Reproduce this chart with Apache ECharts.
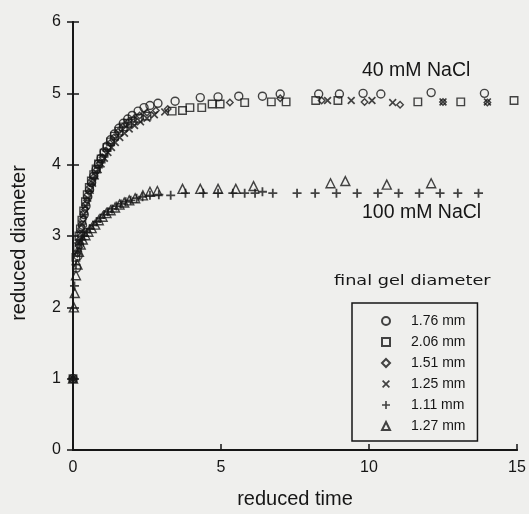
<!DOCTYPE html>
<html>
<head>
<meta charset="utf-8">
<script src="https://cdn.jsdelivr.net/npm/echarts@6/dist/echarts.min.js"></script>
<style>
html,body{margin:0;padding:0;background:#efefed;}
#c{width:529px;height:514px;}
</style>
</head>
<body>
<div id="c"></div>
<script>
// ---- data (reduced time, reduced diameter) ----
const seriesNames = ['1.76 mm', '2.06 mm', '1.51 mm', '1.25 mm', '1.11 mm', '1.27 mm'];
const xTicks = [0, 5, 10, 15];
const yTicks = [0, 1, 2, 3, 4, 5, 6];

const circle176 = [[0,1],[0.12,2.55],[0.17,2.72],[0.22,2.88],[0.27,3.02],[0.32,3.15],[0.38,3.3],[0.44,3.42],[0.5,3.55],[0.56,3.65],[0.63,3.75],[0.7,3.84],[0.78,3.93],[0.86,4.01],[0.95,4.09],[1.05,4.18],[1.15,4.26],[1.27,4.35],[1.4,4.43],[1.55,4.51],[1.7,4.58],[1.85,4.64],[2.0,4.69],[2.2,4.75],[2.4,4.8],[2.6,4.83],[2.87,4.86],[3.45,4.89],[4.3,4.94],[4.9,4.95],[5.6,4.96],[6.4,4.96],[7.0,4.99],[8.3,4.99],[9.0,4.99],[9.8,5.0],[10.4,4.99],[12.1,5.01],[13.9,5.0]];
const square206 = [[0,1],[0.1,2.7],[0.15,2.85],[0.2,3.0],[0.25,3.1],[0.3,3.22],[0.36,3.35],[0.42,3.48],[0.48,3.58],[0.55,3.68],[0.62,3.77],[0.7,3.86],[0.78,3.94],[0.86,4.01],[0.95,4.08],[1.05,4.16],[1.15,4.24],[1.27,4.32],[1.4,4.4],[1.55,4.47],[1.7,4.53],[1.85,4.58],[2.0,4.61],[2.2,4.65],[2.5,4.68],[3.35,4.75],[3.7,4.76],[3.95,4.8],[4.35,4.8],[4.7,4.85],[4.97,4.85],[5.8,4.87],[6.7,4.88],[7.2,4.88],[8.2,4.9],[8.95,4.9],[11.65,4.88],[13.1,4.88],[14.9,4.9]];
const diamond151 = [[0,1],[0.15,2.75],[0.22,2.95],[0.28,3.1],[0.34,3.24],[0.4,3.37],[0.47,3.5],[0.54,3.62],[0.62,3.73],[0.7,3.83],[0.8,3.93],[0.9,4.02],[1.0,4.1],[1.12,4.2],[1.25,4.3],[1.38,4.38],[1.52,4.46],[1.68,4.53],[1.85,4.59],[2.05,4.64],[2.25,4.69],[2.5,4.73],[2.8,4.76],[3.2,4.78],[5.3,4.87],[7.0,4.93],[8.4,4.9],[9.85,4.88],[11.05,4.84],[12.5,4.88],[14.0,4.87]];
const cross125 = [[0,1],[0.18,2.9],[0.24,3.04],[0.3,3.17],[0.36,3.3],[0.43,3.42],[0.5,3.53],[0.58,3.64],[0.66,3.74],[0.75,3.84],[0.85,3.93],[0.95,4.01],[1.06,4.09],[1.18,4.17],[1.3,4.24],[1.43,4.31],[1.58,4.38],[1.74,4.44],[1.9,4.5],[2.08,4.55],[2.28,4.6],[2.5,4.65],[2.75,4.7],[3.1,4.74],[8.6,4.9],[9.4,4.9],[10.1,4.9],[10.8,4.87],[12.5,4.88],[14.0,4.88]];
const plus111 = [[0,1],[0.05,2.3],[0.1,2.6],[0.16,2.78],[0.22,2.88],[0.3,2.95],[0.38,3.0],[0.47,3.05],[0.57,3.1],[0.68,3.15],[0.8,3.2],[0.92,3.25],[1.05,3.3],[1.18,3.34],[1.32,3.38],[1.47,3.42],[1.62,3.45],[1.78,3.48],[1.95,3.5],[2.15,3.53],[2.35,3.55],[2.6,3.57],[2.9,3.58],[3.3,3.57],[3.8,3.6],[4.4,3.6],[4.9,3.6],[5.4,3.6],[5.8,3.6],[6.15,3.6],[6.4,3.62],[6.75,3.6],[7.57,3.6],[8.18,3.6],[8.9,3.6],[9.6,3.6],[10.3,3.6],[11.0,3.6],[11.7,3.6],[12.4,3.6],[13.0,3.6],[13.7,3.6]];
const triangle127 = [[0,1],[0.03,2.0],[0.06,2.2],[0.1,2.45],[0.15,2.6],[0.2,2.78],[0.26,2.88],[0.33,2.95],[0.42,3.01],[0.52,3.06],[0.63,3.11],[0.75,3.16],[0.87,3.22],[1.0,3.27],[1.13,3.32],[1.27,3.36],[1.42,3.4],[1.57,3.44],[1.73,3.47],[1.9,3.5],[2.1,3.53],[2.36,3.57],[2.6,3.62],[2.85,3.63],[3.7,3.66],[4.3,3.66],[4.9,3.66],[5.5,3.66],[6.1,3.7],[8.7,3.74],[9.2,3.77],[10.6,3.72],[12.1,3.74]];

const INK = '#161616';
const FONT = 'Liberation Sans';
const plusPath = 'path://M4,0 H6 V4 H10 V6 H6 V10 H4 V6 H0 V4 H4 Z';
const crossPath = 'path://M1.5,0 L5,3.5 L8.5,0 L10,1.5 L6.5,5 L10,8.5 L8.5,10 L5,6.5 L1.5,10 L0,8.5 L3.5,5 L0,1.5 Z';

function outlined(name, data, symbol, size) {
  return {
    type: 'scatter', name: name, data: data, symbol: symbol, symbolSize: size,
    itemStyle: { color: 'rgba(0,0,0,0)', borderColor: INK, borderWidth: 1.4 },
    emphasis: { disabled: true }, animation: false
  };
}
function filled(name, data, symbol, size) {
  return {
    type: 'scatter', name: name, data: data, symbol: symbol, symbolSize: size,
    itemStyle: { color: INK },
    emphasis: { disabled: true }, animation: false
  };
}

const chart = echarts.init(document.getElementById('c'), null, { renderer: 'canvas' });
chart.setOption({
  backgroundColor: '#efefed',
  animation: false,
  grid: { left: 73, right: 12, top: 22, bottom: 64 },
  xAxis: [{
    type: 'value', min: 0, max: 15, interval: 5, position: 'bottom',
    name: 'reduced time', nameLocation: 'middle', nameGap: 39,
    nameTextStyle: { fontFamily: FONT, fontSize: 20, color: INK },
    axisLine: { lineStyle: { color: INK, width: 1.8 } },
    axisTick: { inside: true, length: 6, lineStyle: { color: INK, width: 1.5 } },
    axisLabel: { fontFamily: FONT, fontSize: 16, color: INK, margin: 10,
      formatter: v => xTicks.indexOf(v) >= 0 ? String(v) : '' },
    splitLine: { show: false }
  }, {
    type: 'value', min: 0, max: 15, interval: 5, position: 'top',
    axisLine: { show: true, lineStyle: { color: INK, width: 1.8 } },
    axisTick: { show: false }, axisLabel: { show: false }, splitLine: { show: false }
  }],
  yAxis: [{
    type: 'value', min: 0, max: 6, interval: 1, position: 'left',
    name: 'reduced diameter', nameLocation: 'middle', nameGap: 44,
    nameTextStyle: { fontFamily: FONT, fontSize: 20, color: INK, padding: [0, 14, 0, 0] },
    axisLine: { show: true, lineStyle: { color: INK, width: 1.8 } },
    axisTick: { show: true, inside: true, length: 6, lineStyle: { color: INK, width: 1.5 } },
    axisLabel: { fontFamily: FONT, fontSize: 16, color: INK, margin: 12,
      formatter: v => yTicks.indexOf(v) >= 0 ? String(v) : '' },
    splitLine: { show: false }
  }, {
    type: 'value', min: 0, max: 6, interval: 1, position: 'right',
    axisLine: { show: true, lineStyle: { color: INK, width: 1.8 } },
    axisTick: { show: true, inside: true, length: 6, lineStyle: { color: INK, width: 1.5 } },
    axisLabel: { show: false }, splitLine: { show: false }
  }],
  legend: {
    orient: 'vertical', left: 352, top: 303,
    data: seriesNames,
    itemWidth: 8, itemHeight: 8, itemGap: 7,
    padding: [11, 12, 8, 29],
    borderColor: INK, borderWidth: 1.5,
    selectedMode: false,
    textStyle: { fontFamily: FONT, fontSize: 14, color: INK, padding: [0, 0, 0, 16] }
  },
  graphic: [
    { type: 'text', left: 362, top: 61, style: { text: '40 mM NaCl', fontFamily: FONT, fontSize: 19.5, fill: INK } },
    { type: 'text', left: 362, top: 203, style: { text: '100 mM NaCl', fontFamily: FONT, fontSize: 19.5, fill: INK } },
    { type: 'text', left: 334, top: 274, scaleX: 1.22, style: { text: 'final gel diameter', fontFamily: 'DejaVu Sans', fontSize: 14.5, fill: INK } }
  ],
  series: [
    outlined(seriesNames[0], circle176, 'circle', 8),
    outlined(seriesNames[1], square206, 'rect', 7.5),
    outlined(seriesNames[2], diamond151, 'diamond', 6.5),
    filled(seriesNames[3], cross125, crossPath, 8),
    filled(seriesNames[4], plus111, plusPath, 9),
    outlined(seriesNames[5], triangle127, 'triangle', 9)
  ]
});
</script>
</body>
</html>
